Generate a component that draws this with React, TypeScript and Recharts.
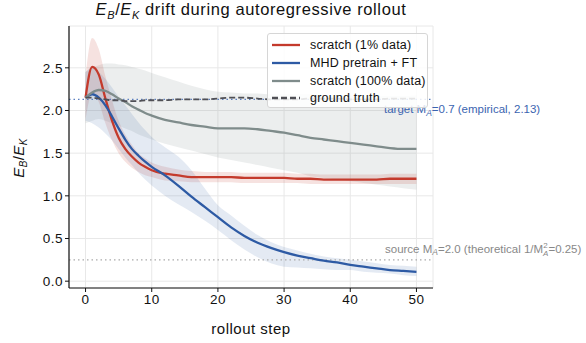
import React from 'react';
import { ComposedChart, Line, Area, XAxis, YAxis, CartesianGrid, ReferenceLine, Label } from 'recharts';

const steps = [0,1,2,3,4,5,6,7,8,9,10,12,14,16,18,20,22,24,26,28,30,32,34,36,38,40,42,44,46,48,50];
const red = [2.15,2.51,2.42,2.14,1.88,1.68,1.55,1.46,1.39,1.34,1.30,1.26,1.24,1.22,1.22,1.22,1.22,1.21,1.21,1.21,1.21,1.20,1.20,1.19,1.19,1.19,1.19,1.19,1.20,1.20,1.20];
const redLo = [1.90,2.20,2.10,1.85,1.65,1.50,1.40,1.33,1.28,1.24,1.22,1.18,1.17,1.16,1.16,1.16,1.16,1.15,1.15,1.15,1.15,1.15,1.14,1.14,1.14,1.14,1.14,1.14,1.14,1.14,1.14];
const redHi = [2.40,2.85,2.72,2.40,2.12,1.88,1.72,1.60,1.50,1.44,1.39,1.34,1.31,1.29,1.28,1.28,1.28,1.27,1.27,1.27,1.27,1.26,1.26,1.25,1.25,1.25,1.25,1.25,1.26,1.26,1.26];
const blue = [2.15,2.19,2.15,2.06,1.93,1.79,1.66,1.55,1.47,1.40,1.34,1.24,1.12,0.99,0.87,0.75,0.63,0.53,0.45,0.39,0.34,0.30,0.27,0.24,0.22,0.19,0.17,0.15,0.13,0.12,0.11];
const blueLo = [1.88,1.85,1.80,1.73,1.65,1.55,1.45,1.36,1.27,1.19,1.12,1.00,0.90,0.81,0.71,0.60,0.48,0.37,0.28,0.21,0.17,0.16,0.15,0.14,0.13,0.13,0.11,0.10,0.09,0.07,0.06];
const blueHi = [2.45,2.50,2.45,2.37,2.27,2.16,2.06,1.96,1.86,1.77,1.69,1.57,1.46,1.30,1.09,0.89,0.77,0.65,0.54,0.46,0.40,0.36,0.32,0.29,0.27,0.25,0.23,0.21,0.19,0.18,0.17];
const gray = [2.15,2.21,2.24,2.23,2.19,2.14,2.10,2.05,2.01,1.97,1.94,1.89,1.86,1.83,1.81,1.79,1.79,1.79,1.78,1.76,1.74,1.71,1.68,1.66,1.64,1.62,1.60,1.58,1.56,1.55,1.55];
const grayLo = [1.85,1.88,1.90,1.88,1.85,1.82,1.79,1.76,1.72,1.69,1.66,1.61,1.57,1.53,1.49,1.45,1.42,1.39,1.36,1.33,1.30,1.27,1.23,1.21,1.19,1.17,1.15,1.13,1.11,1.09,1.07];
const grayHi = [2.45,2.50,2.53,2.55,2.55,2.54,2.53,2.51,2.49,2.47,2.44,2.39,2.34,2.29,2.25,2.22,2.21,2.20,2.20,2.19,2.19,2.19,2.19,2.18,2.18,2.18,2.17,2.17,2.17,2.17,2.18];
const truth = [2.15,2.15,2.14,2.13,2.12,2.12,2.11,2.11,2.11,2.12,2.12,2.12,2.13,2.13,2.13,2.14,2.15,2.15,2.14,2.13,2.13,2.13,2.14,2.14,2.14,2.13,2.13,2.13,2.14,2.14,2.14];

const xTicks = [0, 10, 20, 30, 40, 50];
const yTicks = [0, 0.5, 1.0, 1.5, 2.0, 2.5];
const targetValue = 2.13;
const sourceValue = 0.25;

const data = steps.map((s, i) => ({
  step: s,
  red: red[i], redBand: [redLo[i], redHi[i]],
  blue: blue[i], blueBand: [blueLo[i], blueHi[i]],
  gray: gray[i], grayBand: [grayLo[i], grayHi[i]],
  truth: truth[i],
}));

const FONT = '"Liberation Sans", Arial, Helvetica, sans-serif';
const C_RED = '#c43a2c';
const C_BLUE = '#2d5aa4';
const C_GRAY = '#7f8c8b';
const C_TRUTH = '#4f4f55';

const legendItems = [
  { label: 'scratch (1% data)', color: C_RED, dash: undefined },
  { label: 'MHD pretrain + FT', color: C_BLUE, dash: undefined },
  { label: 'scratch (100% data)', color: C_GRAY, dash: undefined },
  { label: 'ground truth', color: C_TRUTH, dash: '6 3' },
];

const tickStyle = { fill: '#111', fontSize: 13.5, fontFamily: FONT, letterSpacing: 0.5 };

export default function App() {
  return (
    <div style={{ position: 'absolute', left: 0, top: 0, width: 586, height: 343, background: '#fff', fontFamily: FONT }}>
      <div style={{ position: 'absolute', left: 51, width: 400, top: 0, textAlign: 'center', fontSize: 16.5, letterSpacing: 0.6, color: '#111', whiteSpace: 'nowrap' }}>
        <i>E</i><sub style={{ fontSize: 11, fontStyle: 'italic' }}>B</sub>/<i>E</i><sub style={{ fontSize: 11, fontStyle: 'italic' }}>K</sub> drift during autoregressive rollout
      </div>
      <ComposedChart width={586} height={343} data={data} margin={{ top: 26, right: 153, bottom: 28, left: 9 }}>
        <CartesianGrid stroke="#e8e8e8" strokeWidth={1} />
        <XAxis dataKey="step" type="number" domain={[-2.5, 52.5]} ticks={xTicks} allowDataOverflow
          tick={tickStyle} tickLine={{ stroke: '#111' }} axisLine={{ stroke: '#111', strokeWidth: 1.2 }}
          tickSize={4} height={27}>
          <Label value="rollout step" position="insideBottom" offset={-19} style={{ fill: '#111', fontSize: 15, letterSpacing: 0.5, fontFamily: FONT }} />
        </XAxis>
        <YAxis type="number" domain={[-0.08, 2.99]} ticks={yTicks} allowDataOverflow width={60}
          tickFormatter={(v: number) => v.toFixed(1)}
          tick={tickStyle} tickLine={{ stroke: '#111' }} axisLine={{ stroke: '#111', strokeWidth: 1.2 }}
          tickSize={4}
          label={{
            content: () => (
              <text transform="translate(24,158) rotate(-90)" textAnchor="middle" fontSize={15} fontFamily={FONT} fill="#111" letterSpacing={0.4}>
                <tspan fontStyle="italic">E</tspan><tspan fontStyle="italic" fontSize={10} dy={3}>B</tspan><tspan dy={-3}>/</tspan><tspan fontStyle="italic">E</tspan><tspan fontStyle="italic" fontSize={10} dy={3}>K</tspan>
              </text>
            ),
          }}
        />
        <Area dataKey="grayBand" type="monotone" stroke="none" fill={C_GRAY} fillOpacity={0.15} isAnimationActive={false} />
        <Area dataKey="redBand" type="monotone" stroke="none" fill={C_RED} fillOpacity={0.15} isAnimationActive={false} />
        <Area dataKey="blueBand" type="monotone" stroke="none" fill={C_BLUE} fillOpacity={0.13} isAnimationActive={false} />
        <ReferenceLine y={targetValue} stroke="#5b7fc0" strokeDasharray="1.5 3" strokeWidth={1.3}
          label={{
            content: (p: any) => (
              <text x={384} y={p.viewBox.y + 14} fontSize={11.5} fontFamily={FONT} fill="#3a64b0">
                target M<tspan fontSize={8.5} dy={2.5} fontStyle="italic">A</tspan><tspan dy={-2.5}>=0.7 (empirical, 2.13)</tspan>
              </text>
            ),
          }} />
        <ReferenceLine y={sourceValue} stroke="#aaaaaa" strokeDasharray="1.5 3" strokeWidth={1.3}
          label={{
            content: (p: any) => (
              <text x={385} y={p.viewBox.y - 7} fontSize={11.5} fontFamily={FONT} fill="#888">
                source M<tspan fontSize={8.5} dy={2.5} fontStyle="italic">A</tspan><tspan dy={-2.5}>=2.0 (theoretical 1/M</tspan><tspan fontSize={8} dy={-4.5}>2</tspan><tspan fontSize={8} dx={-4.5} dy={7.5} fontStyle="italic">A</tspan><tspan dy={-3}>=0.25)</tspan>
              </text>
            ),
          }} />
        <Line dataKey="red" type="monotone" stroke={C_RED} strokeWidth={2.3} dot={false} isAnimationActive={false} />
        <Line dataKey="blue" type="monotone" stroke={C_BLUE} strokeWidth={2.3} dot={false} isAnimationActive={false} />
        <Line dataKey="gray" type="monotone" stroke={C_GRAY} strokeWidth={2.3} dot={false} isAnimationActive={false} />
        <Line dataKey="truth" type="monotone" stroke={C_TRUTH} strokeWidth={1.8} strokeDasharray="6 3" dot={false} isAnimationActive={false} />
      </ComposedChart>
      <div style={{ position: 'absolute', left: 267, top: 33, width: 161, height: 75, background: 'rgba(255,255,255,0.85)', border: '1px solid #d6d6d6', borderRadius: 3, boxSizing: 'border-box' }}>
        {legendItems.map((it, i) => (
          <div key={i} style={{ position: 'absolute', left: 3, top: 2.5 + i * 17.8, height: 17, display: 'flex', alignItems: 'center', fontSize: 12.5, letterSpacing: 0.2, color: '#111', whiteSpace: 'nowrap' }}>
            <svg width={30} height={16} style={{ marginRight: 9 }}>
              <line x1={1} y1={8} x2={29} y2={8} stroke={it.color} strokeWidth={2.3} strokeDasharray={it.dash} />
            </svg>
            {it.label}
          </div>
        ))}
      </div>
    </div>
  );
}
